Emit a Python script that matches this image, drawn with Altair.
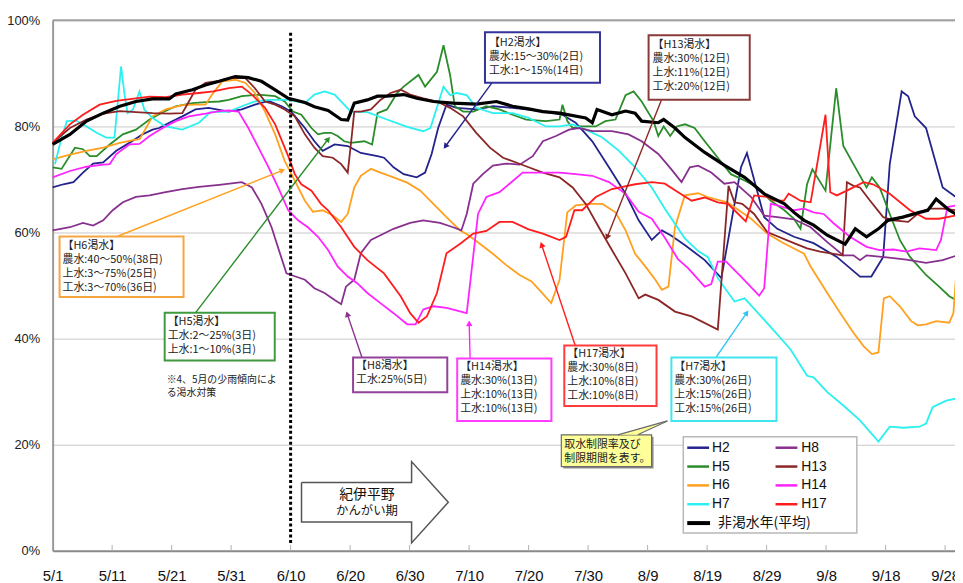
import math
import altair as alt
import pandas as pd

# ---------------- data (day 0 = 5/1, value = 貯水率 %) ----------------
DAY_LABELS = ["5/1", "5/11", "5/21", "5/31", "6/10", "6/20", "6/30", "7/10",
              "7/20", "7/30", "8/9", "8/19", "8/29", "9/8", "9/18", "9/28"]
Y_TICKS = [0, 20, 40, 60, 80, 100]

H2 = [(0,68.5),(1.8,69.1),(3.5,69.5),(5.1,71.3),(6.8,73),(8.5,73.2),(10.7,75.4),(12.9,76.9),
      (15.1,78.5),(16.8,79.4),(17.9,79.7),(19.6,80.7),(21.8,81.9),(24,83.2),(26.2,83.5),(29.6,82.8),
      (31.8,83.2),(34,84.1),(36.3,84.8),(38.5,83.8),(40.1,82.8),(42.4,79.7),(44,77.2),(45.4,75.4),
      (47.4,76.6),(49.6,76.3),(51.8,75),(54.6,74.4),(55.7,74.1),(57.3,72.3),(59,71),(61.2,70.4),
      (62.6,71.3),(63.7,74.8),(64.8,79.7),(66.2,84.1),(67.9,83.5),(71.2,83.2),(74,83.8),(77.3,83.5),
      (79.6,83.2),(82.9,82.8),(85.7,82.2),(87.9,80.7),(90.7,77.2),(93.5,72.3),(96.3,67.3),(98.5,62.3),
      (100.7,58.6),(102.4,60.4),(104,59.4),(106.3,57.6),(109.6,54.8),(112.4,51.4),(115.7,72.3),
      (116.7,75),(119.6,62.9),(121.8,60.7),(124.6,59.2),(127.9,58),(131.8,55.4),(135.7,51.7),
      (137.6,51.7),(139.6,55.4),(140.7,72.9),(142.7,86.6),(143.8,85.7),(144.9,81.9),(146.8,79.7),
      (149.6,68.5),(151.8,66.7)]

H5 = [(0,72.3),(1.5,72),(3.75,76),(5.1,75.7),(6.25,74.4),(7.4,74.4),(9.6,76.6),(11.8,78.5),(14,79.4),
      (16.3,81.3),(18.5,82.7),(20.7,83.8),(23.5,84.4),(25.7,84.6),(28,84.7),(29.6,85),(31.8,85.7),
      (34.6,86),(37.4,85.7),(39,84.7),(40.4,82.8),(41.8,82.2),(43.5,79.7),(44.6,78.5),(45.7,78.8),
      (46.8,78.8),(47.9,78.2),(49,77.2),(50.1,76.9),(52.4,77.2),(53.7,76.6),(54.6,82.5),(56.2,83.2),
      (57.9,86.3),(59,87.5),(61.5,89.7),(62.6,87.5),(64.6,90.3),(65.7,95.3),(66.8,89.7),(67.6,83.8),
      (69,82.8),(70.7,82.8),(72.9,83.8),(75.1,83.2),(77.3,82.2),(79.6,81.3),(82.9,81),(85.2,81.3),
      (85.7,84.1),(86.5,81),(87.4,79.7),(88.5,80),(91.3,80),(92.9,81),(94.6,81.3),(96.3,85.9),
      (97.65,86.6),(99,84.7),(101,81),(101.8,78.2),(102.7,80),(103.8,78.2),(104.9,80),(106.3,80.4),
      (107.9,79.7),(109.6,77.2),(111.8,74.1),(114,71),(116.3,69.8),(118.5,68.5),(120.7,66),(123,64.2),
      (124.6,62.6),(125.7,60.7),(126.8,69.1),(127.7,71.9),(129.9,67.9),(131.7,87.2),(132.9,76.3),
      (134.6,72.9),(136.8,68.5),(137.7,70.4),(139,68.5),(140.7,63.5),(142.4,58.6),(144.1,55.4),
      (146.8,52),(149,49.8),(150.7,48),(151.8,47.3)]

H6 = [(0,73.8),(2.9,74.7),(5.7,75.4),(8.5,76),(11.3,76.9),(13.5,77.4),(14.6,77.6),(15.7,79.7),
      (16.8,81.9),(19,83.2),(21.8,84),(24,84.1),(25.7,84.1),(26.8,86),(28.5,88.5),(30.7,88.8),
      (32.4,88.2),(34,86.3),(35.7,82.8),(37.4,78.5),(39,73.5),(40.7,69.8),(42.4,66),(43.75,63.9),
      (45.4,64.2),(47.1,63.2),(48.5,62),(49.6,63.5),(50.7,68.5),(51.8,70.7),(53.5,72),(55.1,71.3),
      (57.3,70.4),(59.6,69.4),(61.8,67.9),(64,65.4),(66.2,62.9),(68.5,60.4),(69.6,59.7),(71.8,57.9),
      (74,56),(76.2,53.9),(78.5,52),(80.5,50.8),(81.8,49.2),(83.8,46.7),(85.2,51.1),(86.5,63.8),
      (87.9,65.1),(90.2,65.4),(92.4,65.4),(94.6,63.8),(96.3,60.4),(97.9,56),(99.9,53.2),(101.3,51.1),
      (102.4,49.2),(103.5,49.8),(104.6,61),(106.25,67),(108.5,67.4),(110.1,66.7),(113.4,65.7),
      (115.1,64.4),(117.4,62.6),(120.1,59.8),(122.5,58.2),(124.6,57),(126.3,56),(127.4,53.6),
      (130.2,48.6),(132.4,44.8),(134.6,41.1),(136.3,38.6),(137.7,37.1),(138.8,37.4),(139.7,47.6),
      (140.7,48),(142.4,46.1),(144.3,43.3),(145.4,42.5),(146.8,42.7),(148.5,43.3),(150.7,43),
      (151.4,44.8),(151.8,51.1)]

H7 = [(0.4,72.9),(1.5,77.9),(2.4,81),(4,81.1),(5.7,80),(7.4,78.8),(9,77.9),(10.4,77.9),(11.5,91.3),
      (12.1,85.9),(12.6,82.5),(13.5,83.2),(14.6,86.6),(15.4,83.2),(16.8,81.6),(19,80),(21.8,79.4),
      (24.6,80.7),(26.5,82.7),(29.6,82.8),(31.8,83.8),(34,84.7),(36.3,85),(39.6,85),(42.4,84.4),
      (44,86),(45.7,86.6),(47.4,86),(49,84.1),(50.1,82.8),(52.9,82.7),(56.2,81.3),(59.6,79.9),
      (62.3,79.1),(63.5,79.7),(65.7,87.5),(66.8,85.9),(67.9,86.3),(69.6,85.9),(71.2,83.5),(74,82.5),
      (77.3,82.5),(80,81.6),(82.9,80),(85.2,80),(87.4,80.4),(89.6,79.4),(92.4,77.9),(95.2,75.4),
      (97.9,72.3),(100.7,68.5),(102.9,64.5),(106.25,58.9),(108.5,56.5),(110.1,55.4),(111.8,51.4),
      (114.6,47),(116.3,47.6),(118.5,44.9),(121.8,40.8),(124,38),(126.8,33),(127.9,32.7),(130.2,29.9),
      (132.9,27.4),(135.7,24.6),(138.8,20.6),(140.7,23.4),(143,23.2),(145.7,23.4),(146.8,24),
      (147.9,27.1),(150.2,28.3),(151.8,28.7)]

H8 = [(0,60.4),(2.9,61),(5.1,61.8),(6.8,61.3),(8.5,62.3),(10.1,64.2),(11.8,65.7),(14,66.7),(16.3,67),
      (19,67.6),(21.8,68.2),(24.6,68.6),(28,69),(31.8,69.5),(33.5,68.5),(35.1,65.4),(36.8,61),
      (38.2,56.1),(39.3,52.3),(40.1,52),(42.4,51.1),(44,49.5),(45.7,48.6),(47.4,47.3),(48.5,46.5),
      (49.3,49.8),(50.7,51.1),(51.8,56.1),(53.5,58.6),(55.1,59.5),(57.3,60.7),(60.1,61.8),(62.3,62.3),
      (65.1,61.8),(67.3,61),(68.7,60.4),(69.6,63.5),(70.7,69.2),(72.3,71),(74,72.6),(76.2,73),
      (78.5,72.8),(80.7,74.4),(82.4,77.2),(84.6,78.2),(86.8,79.4),(88.5,79.7),(90.7,79.1),(94,79.1),
      (96.8,78.5),(99,77.2),(101.8,74.8),(104,71.9),(105.7,69.5),(107.1,72.3),(108.5,72.6),
      (110.7,71.3),(112.9,69.2),(114.6,69.5),(117.4,66.7),(119.6,63.2),(121.8,62.9),(124.6,62.5),
      (127.4,61),(130.2,58.2),(132.9,55.7),(134.6,55.7),(135.7,54.8),(136.8,55.7),(140.2,55.3),
      (143.5,54.9),(146.8,54.3),(149.6,54.8),(151.8,55.6)]

H13 = [(0,76.9),(2.9,79.7),(5.7,81.3),(8.5,82.4),(11.3,82.9),(14,82.7),(16.8,82.5),(19.6,82.4),
       (21.8,82.5),(22.9,84.7),(24,86.9),(25.7,88.2),(28,88.6),(29.6,89.1),(32.4,89.1),(34,87.2),
       (35.7,84.7),(37.4,84.1),(39,83.2),(40.7,81.9),(42.4,78.5),(44,76),(45.4,74.4),(47.1,74.1),
       (48.5,72.9),(49.6,71.3),(50.25,77.9),(50.7,82.8),(51.8,82.8),(53.5,83.2),(55.1,85),(56.8,86.3),
       (58.5,86.9),(60.1,86),(62.3,85.3),(64.6,84.7),(66.8,83.5),(69,81.9),(71.2,78.8),(73.5,76),
       (75.7,74.1),(77.9,73.2),(80,72.3),(82.4,71.3),(85.2,70.4),(87.4,68.5),(89.6,65.4),(91.8,61),
       (94,56.7),(96.3,52.3),(98.5,47.6),(99.6,48.3),(101.8,47.3),(104.6,45.1),(107.4,44.2),
       (111.8,41.7),(113.6,68.8),(114.6,65.7),(115.9,65.4),(117.9,63.5),(120.1,60.1),(124.6,58),
       (126.8,57),(129,56.4),(132.8,55.7),(133.5,69.5),(134.6,68.8),(135.7,68.5),(137.4,66),
       (139.6,62.9),(141.3,62.3),(143.8,62),(145.7,63.8),(147.4,64.5),(149.6,64.5),(151.8,64.2)]

H14 = [(0,70.4),(2.9,71.6),(5.7,72.4),(8.5,72.8),(9.6,72.9),(10.7,74.8),(12.9,76.6),(14.6,76.7),
       (16.3,78.2),(18.5,79.7),(20.7,81),(22.9,81.9),(25.7,82.4),(28,82.9),(29.6,83),(31.25,82.8),
       (32.9,79.7),(34.6,76),(36.3,72.3),(37.9,68.5),(39.6,64.2),(41.25,62.3),(42.9,61),(44.6,59.2),
       (46.3,56.7),(47.9,53.6),(49.6,51.7),(51.25,50.4),(52.9,48.6),(55.1,46.7),(57.3,44.8),
       (59.6,42.7),(61,42.7),(62.3,45.5),(64,46.1),(66.2,45.8),(69.6,44.8),(71.5,63.5),(72.9,66.7),
       (75.1,67.6),(76.8,69.2),(79,71.3),(82.4,71.3),(85.2,71.3),(87.9,71),(90.7,70.7),(93.5,69.5),
       (96.3,67.3),(98.5,63.9),(100.7,62.6),(102.9,59),(105.1,55),(106.8,53.3),(109.6,49.8),
       (110.7,50.3),(111.8,54.5),(113.2,54.5),(115.7,51.7),(118.75,48.1),(119.6,49.5),(120.7,65.4),
       (121.8,65.1),(124.6,64.2),(126.3,64.5),(127.9,63.8),(129.6,63.5),(131.3,61.7),(134,59.2),
       (136.8,57.3),(139,56.7),(141.3,56.8),(143.5,56.4),(145.7,57),(148.5,56.7),(149.3,58.6),
       (150.4,64.8),(151.8,65.1)]

H17 = [(0,76.9),(2.9,80.4),(5.1,82.2),(7.9,84.1),(10.7,84.8),(14,85.3),(16.3,85.6),(19,85.5),
       (21.8,86),(24.6,86.3),(27,86.6),(29.6,87.2),(31.8,87.5),(33.5,86),(35.7,83.5),(37.4,80.4),
       (39.6,74.4),(40.7,71),(41.8,69.1),(43.5,67.9),(45.1,65.4),(46.3,64.2),(48.5,61),(50.7,57.3),
       (52.9,54.8),(55.7,52.3),(58.5,48),(60.1,44.8),(61.5,43),(62.9,44.2),(64.6,48.6),(66.2,56.1),
       (68.5,57.9),(70.7,59.8),(72.9,60.3),(75.1,62),(77.3,62),(80,60.6),(82.4,59.8),(85.2,58.6),
       (86.3,59.2),(87.7,64.2),(89,64.2),(91.3,66.7),(94,68.2),(97.9,69.1),(100.7,69.5),(102.9,69.2),
       (105,67.7),(107.4,66),(109.6,66.6),(111.8,65.7),(113.5,65.4),(114.6,64.2),(116.5,62.1),
       (117.9,67),(120.1,66.7),(121.3,66),(122.9,66),(123.7,67.3),(125.7,66),(127.4,65.7),
       (128.5,72.9),(129.9,82.2),(130.7,67.6),(131.8,67),(133.5,67.9),(136.3,69.5),(137.9,69.1),
       (140.7,67.3),(144.1,64.2),(146.8,62.6),(149,62.6),(151.8,63.2)]

AVG = [(0,76.6),(2.9,78.5),(5.7,81),(8.5,82.5),(11.3,83.8),(14,84.7),(16.8,85.2),(19.6,85.2),
       (20.7,86.1),(23.5,86.9),(25.7,87.8),(28,88.5),(30.7,89.4),(32.9,89.2),(35.1,88.5),(37.4,86.9),
       (39.6,85.3),(42.4,84.5),(44,83.7),(46.3,83),(48.5,81.3),(49.6,81.2),(50.7,84.4),(52.9,85),
       (54.6,85.7),(56.2,85.7),(59,86),(61.2,85.3),(64,84.7),(67.3,84.4),(71.2,84.2),(74.6,84.7),
       (77.3,83.8),(80,83.3),(82.4,82.8),(85.2,82.5),(89.6,81.6),(90.7,80.7),(91.5,83.2),(94,82.2),
       (96.3,82.9),(97.9,82.5),(99,81),(101.8,80.7),(102.7,81.3),(104.6,79.7),(106.3,77.9),
       (109.6,75.1),(113,72.6),(116.3,70.4),(119.6,67.3),(123,65.4),(124.6,63.8),(126.3,62.3),
       (127.9,61.4),(130.2,59.5),(133.2,57.8),(134.9,60.7),(136.8,59.2),(138.8,60.7),(140.4,62.3),
       (142.9,62.9),(145.7,63.8),(147.1,64.2),(148.5,66.3),(150.7,64.2),(151.8,63.5)]

SERIES = [("H2", H2), ("H5", H5), ("H6", H6), ("H7", H7),
          ("H8", H8), ("H13", H13), ("H14", H14), ("H17", H17)]
COLORS = {"H2": "#23238c", "H5": "#2a8c2a", "H6": "#ffa01e", "H7": "#2af0f0",
          "H8": "#88308f", "H13": "#8b2626", "H14": "#ff24ff", "H17": "#ff1c1c"}
AVG_NAME = "非渇水年(平均)"

# ---------------- geometry helpers (plot area: 910 x 535 px) ----------------
W, H = 910, 535
PX_PER_DAY = 6.0
XMAX = W / PX_PER_DAY
X0, Y0 = 53, 18          # plot origin on the page


def dx(px):
    return (px - X0) / PX_PER_DAY


def dy(py):
    return 100 - (py - Y0) * 100.0 / H


XS = alt.Scale(domain=[0, XMAX], nice=False, zero=False)
YS = alt.Scale(domain=[0, 100], nice=False, zero=False)
FONT_JP = "Noto Sans CJK JP"
FONT_LAT = "Liberation Sans"

label_expr = "[" + ",".join("'%s'" % s for s in DAY_LABELS) + "][round(datum.value/10)]"
X_AXIS = alt.Axis(values=[10 * i for i in range(len(DAY_LABELS))], labelExpr=label_expr,
                  title=None, grid=False, ticks=False, tickSize=0, labelPadding=18,
                  labelFontSize=15, labelFont=FONT_LAT, labelColor="#111",
                  domainColor="#8a8a8a", domainWidth=2, labelFlush=False)
Y_AXIS = alt.Axis(values=Y_TICKS, labelExpr="datum.value + '%'", title=None,
                  grid=True, gridColor="#c8c8c8", gridWidth=1, ticks=False, tickSize=0,
                  labelPadding=13, labelFontSize=13, labelFont=FONT_LAT, labelColor="#222",
                  domainColor="#9a9a9a", domainWidth=2)


def ex(field):
    return alt.X(field, type="quantitative", scale=XS, axis=X_AXIS)


def ey(field):
    return alt.Y(field, type="quantitative", scale=YS, axis=Y_AXIS)


# ---------------- series ----------------
rows = []
for name, pts in SERIES:
    for i, (d, v) in enumerate(pts):
        rows.append({"series": name, "day": d, "pct": v, "i": i})
df = pd.DataFrame(rows)
df_avg = pd.DataFrame([{"day": d, "pct": v, "i": i} for i, (d, v) in enumerate(AVG)])

lines = alt.Chart(df).mark_line(strokeWidth=1.8).encode(
    x=ex("day"), y=ey("pct"),
    color=alt.Color("series:N", scale=alt.Scale(domain=list(COLORS.keys()),
                                                range=list(COLORS.values())), legend=None),
    order="i:Q",
)
avg_line = alt.Chart(df_avg).mark_line(strokeWidth=3.2, color="#000").encode(
    x=ex("day"), y=ey("pct"), order="i:Q")

# top border, inner ticks, dotted 6/10 line
top_rule = alt.Chart(pd.DataFrame({"day": [0], "b": [XMAX], "pct": [100]})).mark_rule(
    color="#a0a0a0", strokeWidth=2).encode(x=ex("day"), x2="b:Q", y=ey("pct"))
tick_df = pd.DataFrame({"day": [10 * i for i in range(1, len(DAY_LABELS))], "pct": 0, "y2": 1.1})
inner_ticks = alt.Chart(tick_df).mark_rule(color="#b0b0b0", strokeWidth=1).encode(
    x=ex("day"), y=ey("pct"), y2="y2:Q")
dotted = alt.Chart(pd.DataFrame({"day": [40], "pct": [dy(545)], "y2": [dy(30)]})).mark_rule(
    color="#000", strokeWidth=3, strokeDash=[3, 2.5]).encode(x=ex("day"), y=ey("pct"), y2="y2:Q")

# ---------------- annotation boxes ----------------
BOXES = [  # left, top, right, bottom (px), border colour, text x, text ys, lines
    (60, 236, 185, 297, "#f5a640", 63, [246, 260, 274, 288],
     ["【H6渇水】", "農水:40～50%(38日)", "上水:3～75%(25日)", "工水:3～70%(36日)"]),
    (166, 313, 277, 361, "#3f9a3f", 169, [322, 336, 350],
     ["【H5渇水】", "工水:2～25%(3日)", "上水:1～10%(3日)"]),
    (356, 358, 451, 393, "#93409a", 359, [367, 381],
     ["【H8渇水】", "工水:25%(5日)"]),
    (461, 359, 556, 422, "#ff3cff", 464, [368, 382, 396, 410],
     ["【H14渇水】", "農水:30%(13日)", "上水:10%(13日)", "工水:10%(13日)"]),
    (569, 346, 662, 407, "#ff3b3b", 572, [355, 369, 383, 397],
     ["【H17渇水】", "農水:30%(8日)", "上水:10%(8日)", "工水:10%(8日)"]),
    (677, 358, 783, 422, "#3fe6ee", 680, [368, 382, 396, 410],
     ["【H7渇水】", "農水:30%(26日)", "上水:15%(26日)", "工水:15%(26日)"]),
    (489, 30, 605, 81, "#33339a", 493, [41, 55, 69],
     ["【H2渇水】", "農水:15～30%(2日)", "工水:1～15%(14日)"]),
    (654, 33, 756, 98, "#8b3a3a", 658, [43, 57, 71, 85],
     ["【H13渇水】", "農水:30%(12日)", "上水:11%(12日)", "工水:20%(12日)"]),
]
ARROWS = [  # from (px) -> tip (px), colour
    (118, 236, 288, 168, "#ffa01e"), (197, 313, 333, 135, "#2a8c2a"),
    (365, 358, 349, 311, "#88308f"), (474, 359, 473, 320, "#ff24ff"),
    (580, 346, 545, 241, "#ff1c1c"), (722, 358, 755, 310, "#2ec6ee"),
    (496, 81, 447, 148, "#23238c"), (667, 98, 611, 240, "#8b2626"),
]

box_rows, text_rows, arrow_rows, head_rows = [], [], [], []
for (l, t, r, b, c, tx, tys, lines_) in BOXES:
    box_rows.append({"day": dx(l), "x2": dx(r), "pct": dy(t), "y2": dy(b), "c": c})
    for ty, s in zip(tys, lines_):
        text_rows.append({"day": dx(tx), "pct": dy(ty), "t": s, "s": 11, "c": "#222"})
for (x1, y1, x2, y2, c) in ARROWS:
    L = math.hypot(x2 - x1, y2 - y1)
    ux, uy = (x2 - x1) / L, (y2 - y1) / L
    arrow_rows.append({"day": dx(x1), "pct": dy(y1), "x2": dx(x2 - 4 * ux), "y2": dy(y2 - 4 * uy), "c": c})
    ang = math.degrees(math.atan2(ux, -uy)) % 360
    head_rows.append({"day": dx(x2 - 3.5 * ux), "pct": dy(y2 - 3.5 * uy), "a": ang, "c": c})

NOTE = ["※4、5月の少雨傾向によ", "る渇水対策"]
for ty, s in zip([381, 394], NOTE):
    text_rows.append({"day": dx(168), "pct": dy(ty), "t": s, "s": 10, "c": "#222"})

CALLOUT = ["取水制限率及び", "制限期間を表す。"]
for ty, s in zip([446, 460], CALLOUT):
    text_rows.append({"day": dx(569), "pct": dy(ty), "t": s, "s": 11, "c": "#222"})

arrows = alt.Chart(pd.DataFrame(arrow_rows)).mark_rule(strokeWidth=1.4).encode(
    x=ex("day"), y=ey("pct"), x2="x2:Q", y2="y2:Q", color=alt.Color("c:N", scale=None))
heads = alt.Chart(pd.DataFrame(head_rows)).mark_point(
    shape="triangle-up", filled=True, size=42, opacity=1).encode(
    x=ex("day"), y=ey("pct"), angle=alt.Angle("a:Q", scale=None), color=alt.Color("c:N", scale=None))
boxes = alt.Chart(pd.DataFrame(box_rows)).mark_rect(fill="white", strokeWidth=2).encode(
    x=ex("day"), x2="x2:Q", y=ey("pct"), y2="y2:Q", stroke=alt.Stroke("c:N", scale=None))

# callout (yellow note with tail)
call_shadow = alt.Chart(pd.DataFrame([{"day": dx(568), "x2": dx(659), "pct": dy(438), "y2": dy(470)}])).mark_rect(
    fill="#8c8c8c").encode(x=ex("day"), x2="x2:Q", y=ey("pct"), y2="y2:Q")
call_box = alt.Chart(pd.DataFrame([{"day": dx(566), "x2": dx(657), "pct": dy(436), "y2": dy(468)}])).mark_rect(
    fill="#ffff99", stroke="#6a6a6a", strokeWidth=1.2).encode(x=ex("day"), x2="x2:Q", y=ey("pct"), y2="y2:Q")
tail_df = pd.DataFrame([{"day": dx(623), "pct": dy(436), "y2": dy(436)},
                        {"day": dx(643), "pct": dy(430.3), "y2": dy(436)},
                        {"day": dx(673), "pct": dy(422), "y2": dy(422)}])
tail = alt.Chart(tail_df).mark_area(color="#ffff99", opacity=1, orient="vertical").encode(
    x=ex("day"), y=ey("pct"), y2="y2:Q")
tail_edges = alt.Chart(pd.DataFrame([
    {"day": dx(623), "pct": dy(436), "x2": dx(673), "y2": dy(422)},
    {"day": dx(643), "pct": dy(436), "x2": dx(673), "y2": dy(422)}])).mark_rule(
    color="#6a6a6a", strokeWidth=1.2).encode(x=ex("day"), y=ey("pct"), x2="x2:Q", y2="y2:Q")

texts = alt.Chart(pd.DataFrame(text_rows)).mark_text(
    align="left", baseline="middle", font=FONT_JP).encode(
    x=ex("day"), y=ey("pct"), text="t:N",
    size=alt.Size("s:Q", scale=None), color=alt.Color("c:N", scale=None))

# ---------------- legend (drawn by hand) ----------------
LEG_COL1 = ["H2", "H5", "H6", "H7"]
LEG_COL2 = ["H8", "H13", "H14", "H17"]
LEG_YS = [449, 468, 487, 506]
leg_box = alt.Chart(pd.DataFrame([{"day": dx(689), "x2": dx(864), "pct": dy(438), "y2": dy(535)}])).mark_rect(
    fill="white", stroke="#b8b8b8", strokeWidth=1.5).encode(x=ex("day"), x2="x2:Q", y=ey("pct"), y2="y2:Q")
leg_sym, leg_txt = [], []
for names, sx1, sx2, tx in [(LEG_COL1, 693, 715, 718), (LEG_COL2, 782, 804, 808)]:
    for n, ly in zip(names, LEG_YS):
        leg_sym.append({"day": dx(sx1), "x2": dx(sx2), "pct": dy(ly), "c": COLORS[n], "w": 2.5})
        leg_txt.append({"day": dx(tx), "pct": dy(ly), "t": n, "f": FONT_LAT})
leg_sym.append({"day": dx(693), "x2": dx(716), "pct": dy(525), "c": "#000", "w": 4})
leg_txt.append({"day": dx(724), "pct": dy(525), "t": AVG_NAME, "f": FONT_JP})
leg_lines = alt.Chart(pd.DataFrame(leg_sym)).mark_rule().encode(
    x=ex("day"), x2="x2:Q", y=ey("pct"),
    color=alt.Color("c:N", scale=None), strokeWidth=alt.StrokeWidth("w:Q", scale=None))
leg_text_lat = alt.Chart(pd.DataFrame([r for r in leg_txt if r["f"] == FONT_LAT])).mark_text(
    align="left", baseline="middle", fontSize=14, color="#111", font=FONT_LAT).encode(
    x=ex("day"), y=ey("pct"), text="t:N")
leg_text_jp = alt.Chart(pd.DataFrame([r for r in leg_txt if r["f"] == FONT_JP])).mark_text(
    align="left", baseline="middle", fontSize=14, color="#111", font=FONT_JP).encode(
    x=ex("day"), y=ey("pct"), text="t:N")

# ---------------- block arrow "紀伊平野 かんがい期" ----------------
BLOCK = [(304, 484), (415, 484), (415, 463), (452, 504), (415, 545), (415, 524), (304, 524), (304, 484)]
block = alt.Chart(pd.DataFrame([{"day": dx(a), "pct": dy(b), "i": i} for i, (a, b) in enumerate(BLOCK)])).mark_line(
    color="#555", strokeWidth=1.5).encode(x=ex("day"), y=ey("pct"), order="i:Q")
BLOCK_TEXT = ["紀伊平野", "かんがい期"]
block_text = alt.Chart(pd.DataFrame([{"day": dx(370), "pct": dy(497), "t": BLOCK_TEXT[0], "s": 14},
                                     {"day": dx(370), "pct": dy(513), "t": BLOCK_TEXT[1], "s": 12.5}])).mark_text(
    align="center", baseline="middle", font=FONT_JP, color="#111").encode(
    x=ex("day"), y=ey("pct"), text="t:N", size=alt.Size("s:Q", scale=None))

chart = alt.layer(
    lines, top_rule, inner_ticks, dotted, avg_line,
    arrows, heads, boxes, call_shadow, call_box, tail, tail_edges, texts,
    leg_box, leg_lines, leg_text_lat, leg_text_jp, block, block_text,
).properties(
    width=W, height=H,
    autosize=alt.AutoSizeParams(type="none"),
    padding={"left": 45, "top": 10, "right": 0, "bottom": 30},
).configure_view(stroke=None)

chart.save("out.html", embed_options={"renderer": "svg", "actions": False})
